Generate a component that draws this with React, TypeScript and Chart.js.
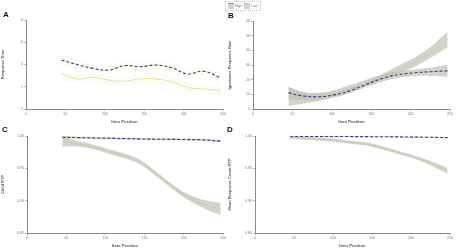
import React, { useEffect, useRef } from "react";
import { Chart, registerables } from "chart.js";
Chart.register(...registerables);

// Item positions (x) where values were read
const xPos = [45, 65, 85, 105, 125, 145, 165, 185, 205, 225, 247];
const xTicks = [0, 50, 100, 150, 200, 250];

// Panel A: Response Time
const aHigh = [4.4, 4.0, 3.65, 3.5, 3.9, 3.8, 3.95, 3.7, 3.15, 3.4, 2.8];
const aHighErr = [0.5, 0.4, 0.4, 0.4, 0.4, 0.4, 0.4, 0.4, 0.4, 0.4, 0.5];
const aLow = [3.15, 2.7, 2.85, 2.6, 2.5, 2.7, 2.7, 2.45, 1.95, 1.8, 1.65];
const aLowErr = [0.5, 0.4, 0.4, 0.4, 0.4, 0.4, 0.4, 0.4, 0.4, 0.4, 0.5];

// Panel B: Ignorance response
const bHigh = [11, 8.8, 8.4, 9.8, 12.8, 17, 21, 23.5, 24.7, 25.4, 26];
const bHighErr = [4, 2.5, 2, 1.5, 1.5, 1.5, 2, 2, 2, 2.5, 4];
const bLow = [8.4, 7.5, 8.4, 11, 14.5, 18, 22, 27, 32, 38.5, 47.5];
const bLowErr = [6, 3.5, 2.5, 2, 2, 2, 2, 2.5, 3, 3.5, 5];

// Panel C: Child RTP
const cHigh = [0.998, 0.9975, 0.997, 0.9965, 0.996, 0.9955, 0.995, 0.9948, 0.9945, 0.994, 0.992];
const cHighErr = [0.0015, 0.001, 0.001, 0.001, 0.001, 0.001, 0.001, 0.001, 0.001, 0.001, 0.0015];
const cLow = [0.991, 0.988, 0.983, 0.976, 0.969, 0.959, 0.941, 0.922, 0.906, 0.895, 0.887];
const cLowErr = [0.007, 0.004, 0.003, 0.003, 0.003, 0.003, 0.003, 0.003, 0.004, 0.006, 0.009];

// Panel D: Mean Response Count RTP
const dHigh = [0.9995, 0.9994, 0.9993, 0.9992, 0.9991, 0.999, 0.9988, 0.9986, 0.9983, 0.998, 0.9975];
const dHighErr = [0.0005, 0.0004, 0.0004, 0.0004, 0.0004, 0.0004, 0.0004, 0.0004, 0.0004, 0.0004, 0.0005];
const dLow = [0.998, 0.9965, 0.995, 0.993, 0.99, 0.987, 0.981, 0.974, 0.967, 0.958, 0.946];
const dLowErr = [0.002, 0.002, 0.002, 0.002, 0.002, 0.002, 0.002, 0.002, 0.002, 0.003, 0.004];

const legendLabels = ["High", "Low"];

const FONT = "'Liberation Sans', Arial, sans-serif";
const AXIS = "#8a8a8a";

type PanelProps = {
  left: number; top: number; width: number; height: number;
  padTop: number; padRight: number; yWidth: number; xHeight: number;
  yMin: number; yMax: number; yStep: number; dec: number; yTitle: string;
  high: number[]; highErr: number[]; low: number[]; lowErr: number[];
  bandColor: string; lowColor: string; edgeColor: string;
};

const pts = (arr: number[]) => arr.map((y, i) => ({ x: xPos[i], y }));
const shift = (arr: number[], err: number[], s: number) => arr.map((v, i) => v + s * err[i]);

function Panel(p: PanelProps) {
  const ref = useRef<HTMLCanvasElement>(null);
  useEffect(() => {
    const line = { pointRadius: 0, tension: 0.4, fill: false };
    const edge = { ...line, borderWidth: 0.6, borderColor: p.edgeColor, borderDash: [1, 1] };
    const chart = new Chart(ref.current!, {
      type: "line",
      data: {
        datasets: [
          { ...line, data: pts(p.high), borderColor: "#3a3a96", borderWidth: 1.1, borderDash: [3, 2] },
          { ...line, data: pts(p.low), borderColor: p.lowColor, borderWidth: 1, borderDash: [1, 1.2] },
          { ...edge, data: pts(shift(p.high, p.highErr, 1)) },
          { ...edge, data: pts(shift(p.high, p.highErr, -1)), fill: "-1", backgroundColor: p.bandColor },
          { ...edge, data: pts(shift(p.low, p.lowErr, 1)) },
          { ...edge, data: pts(shift(p.low, p.lowErr, -1)), fill: "-1", backgroundColor: p.bandColor },
        ] as any,
      },
      options: {
        animation: false,
        responsive: false,
        maintainAspectRatio: false,
        layout: { padding: { top: p.padTop, right: p.padRight, left: 0, bottom: 0 } },
        plugins: { legend: { display: false }, tooltip: { enabled: false } },
        scales: {
          x: {
            type: "linear", min: 0, max: 250,
            afterBuildTicks: (s: any) => { s.ticks = xTicks.map((v) => ({ value: v })); },
            afterFit: (s: any) => { s.height = p.xHeight; },
            ticks: { font: { size: 3.5, family: FONT }, color: "#777", padding: 1, maxRotation: 0 },
            grid: { display: true, drawOnChartArea: false, tickLength: 2, color: AXIS, lineWidth: 0.6 },
            border: { display: true, color: AXIS, dash: [1, 1], width: 1 },
            title: { display: true, text: "Item Position", font: { size: 4.2, family: FONT, weight: "bold" }, color: "#555", padding: { top: 1, bottom: 0 } },
          },
          y: {
            type: "linear", min: p.yMin, max: p.yMax,
            afterBuildTicks: (s: any) => {
              const t = [];
              const n = Math.round((p.yMax - p.yMin) / p.yStep);
              for (let i = 0; i <= n; i++) t.push({ value: p.yMin + i * p.yStep });
              s.ticks = t;
            },
            afterFit: (s: any) => { s.width = p.yWidth; },
            ticks: { font: { size: 3.5, family: FONT }, color: "#777", padding: 1, callback: (v: any) => Number(v).toFixed(p.dec) },
            grid: { display: true, drawOnChartArea: false, tickLength: 2, color: AXIS, lineWidth: 0.6 },
            border: { display: true, color: AXIS, dash: [1, 1], width: 1 },
            title: { display: true, text: p.yTitle, font: { size: 4, family: FONT, weight: "bold" }, color: "#555", padding: 0 },
          },
        },
      } as any,
    });
    return () => chart.destroy();
  }, []);
  return (
    <canvas
      ref={ref}
      width={p.width}
      height={p.height}
      style={{ position: "absolute", left: p.left, top: p.top, width: p.width, height: p.height }}
    />
  );
}

const letterStyle = (left: number, top: number): React.CSSProperties => ({
  position: "absolute", left, top, fontFamily: FONT, fontWeight: "bold", fontSize: 8, lineHeight: "8px", color: "#111",
});

export default function App() {
  const grey = "rgba(196,196,186,0.75)";
  const edge = "#b8b8b0";
  return (
    <div style={{ position: "absolute", left: 0, top: 0, width: 457, height: 248, background: "#fff", overflow: "hidden" }}>
      <Panel left={0} top={0} width={228} height={124} padTop={20} padRight={5} yWidth={26} xHeight={15}
        yMin={0} yMax={8} yStep={2} dec={0} yTitle="Response Time"
        high={aHigh} highErr={aHighErr} low={aLow} lowErr={aLowErr}
        bandColor="rgba(250,247,222,0.35)" lowColor="#cdbf5a" edgeColor="rgba(0,0,0,0)" />
      <Panel left={227} top={0} width={230} height={124} padTop={21} padRight={7} yWidth={26} xHeight={15}
        yMin={0} yMax={60} yStep={10} dec={0} yTitle="Ignorance Response Rate"
        high={bHigh} highErr={bHighErr} low={bLow} lowErr={bLowErr}
        bandColor={grey} lowColor="#c9c08a" edgeColor={edge} />
      <Panel left={0} top={124} width={228} height={124} padTop={12} padRight={5} yWidth={27} xHeight={15}
        yMin={0.85} yMax={1.0} yStep={0.05} dec={2} yTitle="Child RTP"
        high={cHigh} highErr={cHighErr} low={cLow} lowErr={cLowErr}
        bandColor={grey} lowColor="#c9c08a" edgeColor={edge} />
      <Panel left={227} top={124} width={230} height={124} padTop={12} padRight={7} yWidth={28} xHeight={15}
        yMin={0.85} yMax={1.0} yStep={0.05} dec={2} yTitle="Mean Response Count RTP"
        high={dHigh} highErr={dHighErr} low={dLow} lowErr={dLowErr}
        bandColor={grey} lowColor="#c9c08a" edgeColor={edge} />
      <div style={letterStyle(3, 11)}>A</div>
      <div style={letterStyle(228, 12)}>B</div>
      <div style={letterStyle(2, 126)}>C</div>
      <div style={letterStyle(227, 126)}>D</div>
      <div style={{ position: "absolute", left: 225, top: 1, height: 8, padding: "0 2px", border: "1px dotted #c4c4c4", display: "flex", alignItems: "center", gap: 2, fontFamily: FONT, fontSize: 3.5, color: "#777" }}>
        {legendLabels.map((l, i) => (
          <span key={l} style={{ display: "flex", alignItems: "center", gap: 1 }}>
            <span style={{ display: "inline-block", width: 6, height: 5, background: grey, borderTop: i === 0 ? "1px dashed #8a8ab8" : "1px dotted #c9c08a" }} />
            <span>{l}</span>
          </span>
        ))}
      </div>
    </div>
  );
}
